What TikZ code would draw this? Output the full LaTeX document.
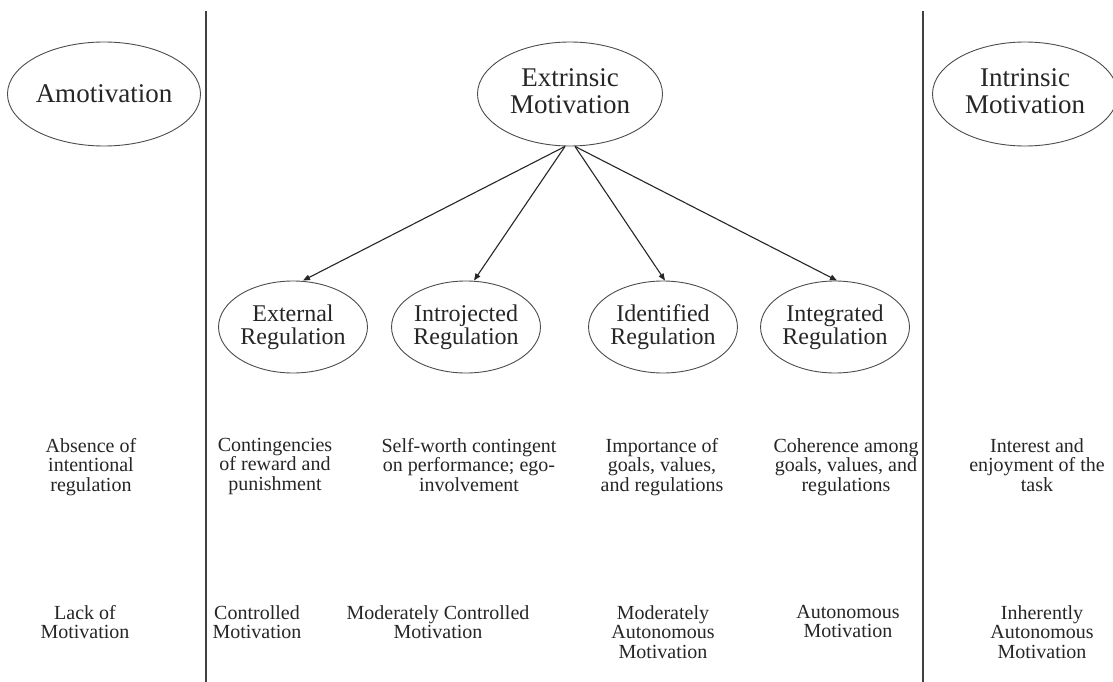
\documentclass[tikz,border=0pt]{standalone}
\usepackage{fontspec}
\setmainfont{Liberation Serif}
\usetikzlibrary{shapes.geometric,arrows.meta}
\begin{document}
\begin{tikzpicture}[x=1pt,y=-1pt,
  big/.style={ellipse,draw=black!70,line width=0.9pt,inner sep=0pt,
    minimum width=185pt,minimum height=104pt,align=center,text=black!85,
    font=\fontsize{27}{27}\selectfont},
  reg/.style={ellipse,draw=black!70,line width=0.9pt,inner sep=0pt,
    minimum width=133pt,minimum height=92pt,align=center,text=black!85,
    font=\fontsize{24}{23}\selectfont},
  desc/.style={anchor=north,inner sep=0pt,align=center,text=black!85,
    font=\fontsize{20}{19.5}\selectfont},
  divider/.style={line width=2pt,draw=black!75},
  link/.style={line width=1.1pt,draw=black!85,-{Triangle[length=7pt,width=5.5pt]}}]

% page frame
\clip (0,0) rectangle (1113,682);
\fill[white] (0,0) rectangle (1113,682);

% column dividers
\coordinate (lt) at (206,11);
\coordinate (lb) at (206,682);
\coordinate (rt) at (923,11);
\coordinate (rb) at (923,682);
\draw[divider] (lt) -- (lb);
\draw[divider] (rt) -- (rb);

% main categories
\node[big] (amo) at (104,94) {Amotivation};
\node[big] (ext) at (570,94) {Extrinsic\\Motivation\vphantom{gy}};
\node[big] (int) at (1025,94) {Intrinsic\\Motivation\vphantom{gy}};

% regulation styles
\node[reg] (er) at (293,327) {External\\Regulation};
\node[reg] (ij) at (466,327) {Introjected\\Regulation};
\node[reg] (id) at (663,327) {Identified\\Regulation};
\node[reg] (ig) at (835,327) {Integrated\\Regulation};

\draw[link] ([xshift=-5pt]ext.south) -- ([xshift=10pt]er.north);
\draw[link] ([xshift=-5pt]ext.south) -- ([xshift=8pt]ij.north);
\draw[link] ([xshift=5pt]ext.south) -- ([xshift=2pt]id.north);
\draw[link] ([xshift=5pt]ext.south) -- ([xshift=2pt]ig.north);

% regulatory processes
\node[desc] (p0) at (91,438) {Absence of\\intentional\\regulation};
\node[desc] (p1) at (275,438) {Contingencies\\of reward and\\punishment};
\node[desc] (p2) at (469,438) {Self-worth contingent\\on performance; ego-\\involvement};
\node[desc] (p3) at (662,438) {Importance of\\goals, values,\\and regulations};
\node[desc] (p4) at (846,438) {Coherence among\\goals, values, and\\regulations};
\node[desc] (p5) at (1037,438) {Interest and\\enjoyment of the\\task};

% degree of autonomy
\node[desc] (a0) at (85,605) {Lack of\\Motivation};
\node[desc] (a1) at (257,605) {Controlled\\Motivation};
\node[desc] (a2) at (438,605) {Moderately Controlled\\Motivation};
\node[desc] (a3) at (663,605) {Moderately\\Autonomous\\Motivation};
\node[desc] (a4) at (848,605) {Autonomous\\Motivation};
\node[desc] (a5) at (1042,605) {Inherently\\Autonomous\\Motivation};
\end{tikzpicture}
\end{document}
